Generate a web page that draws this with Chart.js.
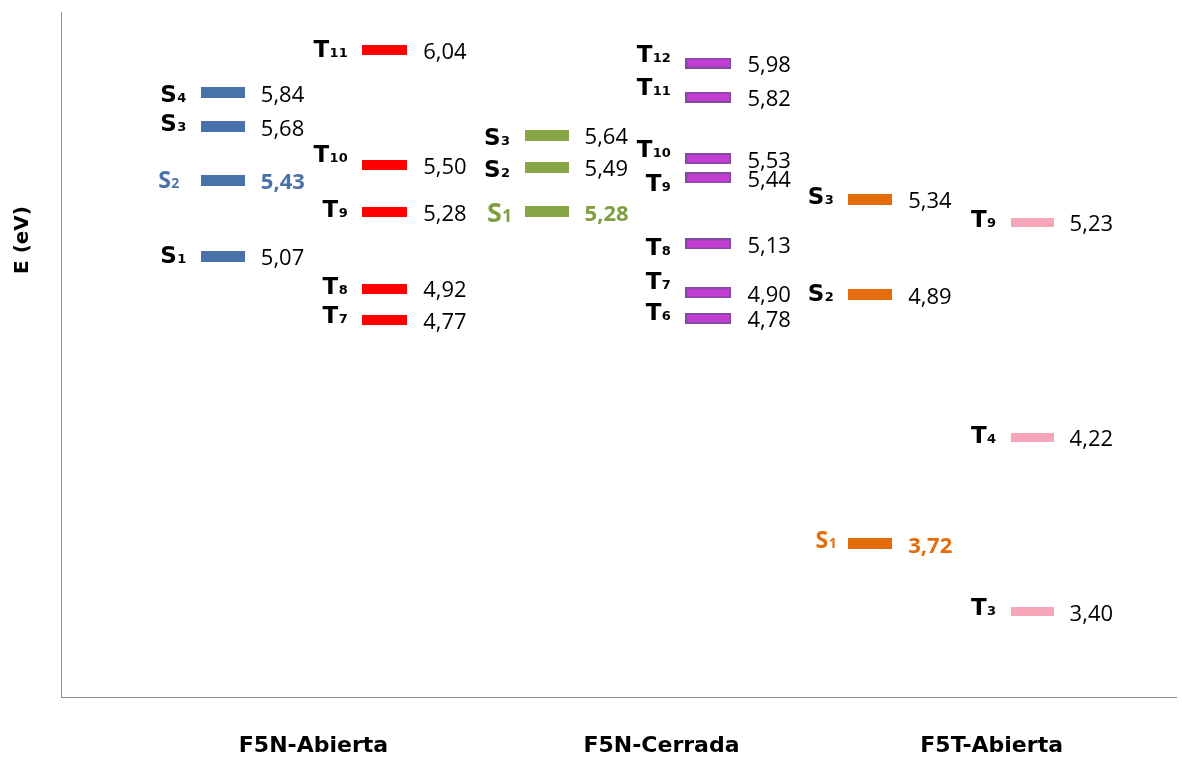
<!DOCTYPE html>
<html>
<head>
<meta charset="utf-8">
<script src="https://cdn.jsdelivr.net/npm/chart.js@4.4.1/dist/chart.umd.min.js"></script>
<style>
  html, body { margin: 0; padding: 0; background: #ffffff; }
  #wrap { width: 1182px; height: 758px; }
</style>
</head>
<body>
<div id="wrap"><canvas id="c" width="1182" height="758"></canvas></div>
<script>
// Molecules / conformations along the horizontal axis
const categories = ['F5N-Abierta', 'F5N-Cerrada', 'F5T-Abierta'];

// Excited-state energies (eV), singlets and triplets per structure
const abiertaSingletNames = ['S1', 'S2', 'S3', 'S4'];
const abiertaSingletE     = [5.07, 5.43, 5.68, 5.84];
const abiertaTripletNames = ['T7', 'T8', 'T9', 'T10', 'T11'];
const abiertaTripletE     = [4.77, 4.92, 5.28, 5.50, 6.04];

const cerradaSingletNames = ['S1', 'S2', 'S3'];
const cerradaSingletE     = [5.28, 5.49, 5.64];
const cerradaTripletNames = ['T6', 'T7', 'T8', 'T9', 'T10', 'T11', 'T12'];
const cerradaTripletE     = [4.78, 4.90, 5.13, 5.44, 5.53, 5.82, 5.98];

const f5tSingletNames = ['S1', 'S2', 'S3'];
const f5tSingletE     = [3.72, 4.89, 5.34];
const f5tTripletNames = ['T3', 'T4', 'T9'];
const f5tTripletE     = [3.40, 4.22, 5.23];

// Small vertical shifts of the state names so neighbouring labels don't collide
const abiertaSingletNudge = [-2, 0, -4, 1];
const abiertaTripletNudge = [-6, -3, -3, -12, -2];
const cerradaSingletNudge = [0, 1, 1];
const cerradaTripletNudge = [-7, -12, 3, 5, -10, -10, -9];
const f5tSingletNudge     = [-4, -2, -4];
const f5tTripletNudge     = [-5, -3, -4];

// Horizontal bar used as the marker of each level
function makeBar(w, h, fill, stroke, lw) {
  const c = document.createElement('canvas');
  c.width = w; c.height = h;
  const g = c.getContext('2d');
  g.fillStyle = fill;
  g.fillRect(0, 0, w, h);
  if (stroke) {
    g.strokeStyle = stroke;
    g.lineWidth = lw;
    g.strokeRect(lw / 2, lw / 2, w - lw, h - lw);
  }
  return c;
}

const columns = [
  { names: abiertaSingletNames, values: abiertaSingletE, nudge: abiertaSingletNudge,
    bar: makeBar(44, 11, '#4a72aa'), highlight: 'S2', hiColor: '#4a72aa', hiGap: 22 },
  { names: abiertaTripletNames, values: abiertaTripletE, nudge: abiertaTripletNudge,
    bar: makeBar(45, 10, '#ff0000') },
  { names: cerradaSingletNames, values: cerradaSingletE, nudge: cerradaSingletNudge,
    bar: makeBar(44, 11, '#86a544'), highlight: 'S1', hiColor: '#7f9e3e', hiBig: true, hiGap: 13 },
  { names: cerradaTripletNames, values: cerradaTripletE, nudge: cerradaTripletNudge,
    bar: makeBar(46, 11, '#c23dd2', '#7a4c9c', 1.6) },
  { names: f5tSingletNames, values: f5tSingletE, nudge: f5tSingletNudge,
    bar: makeBar(44, 11, '#e46c0a'), highlight: 'S1', hiColor: '#e46c0a', hiGap: 12 },
  { names: f5tTripletNames, values: f5tTripletE, nudge: f5tTripletNudge,
    bar: makeBar(43, 9, '#f7a6b9') }
];

// Where each structure name sits along the x scale
const categoryTickPos = [1.56, 3.71, 5.75];

const datasets = columns.map((col, i) => ({
  data: col.values.map(v => ({ x: i + 1, y: v })),
  pointStyle: col.bar,
  pointRadius: 5,
  showLine: false
}));

// State names (letter + subscript) on the left of each bar, energies on the right
const levelLabels = {
  id: 'levelLabels',
  afterDatasetsDraw(chart) {
    const ctx = chart.ctx;
    ctx.save();
    columns.forEach((col, di) => {
      const meta = chart.getDatasetMeta(di);
      const half = col.bar.width / 2;
      meta.data.forEach((pt, k) => {
        const name = col.names[k];
        const value = col.values[k];
        const hi = name === col.highlight;
        const letter = name.charAt(0);
        const sub = name.slice(1);

        let mainFont, subFont, color, cap, gap;
        if (hi) {
          const sz = col.hiBig ? 27 : 23;
          mainFont = 'bold ' + sz + 'px "Open Sans"';
          subFont = 'bold ' + Math.round(sz * 0.62) + 'px "Open Sans"';
          color = col.hiColor;
          cap = sz * 0.714;
          gap = col.hiGap;
        } else {
          mainFont = 'bold 23px "DejaVu Sans"';
          subFont = 'bold 13px "DejaVu Sans"';
          color = '#000000';
          cap = 23 * 0.729;
          gap = 15;
        }
        ctx.font = mainFont;
        const wMain = ctx.measureText(letter).width;
        ctx.font = subFont;
        const wSub = ctx.measureText(sub).width;
        const right = pt.x - half - gap;
        const base = pt.y + col.nudge[k] + cap / 2;
        ctx.fillStyle = color;
        ctx.textBaseline = 'alphabetic';
        ctx.textAlign = 'left';
        ctx.font = mainFont;
        ctx.fillText(letter, right - wMain - wSub, base);
        ctx.font = subFont;
        ctx.fillText(sub, right - wSub + 0.5, base);

        // energy value, written with a decimal comma
        const txt = value.toFixed(2).replace('.', ',');
        ctx.font = (hi ? 'bold ' : '') + '22px "Open Sans"';
        ctx.fillStyle = hi ? col.hiColor : '#000000';
        ctx.fillText(txt, pt.x + half + 16, pt.y + 1 + 22 * 0.714 / 2);
      });
    });
    ctx.restore();
  }
};

// Vertical axis caption
const energyTitle = {
  id: 'energyTitle',
  afterDraw(chart) {
    const ctx = chart.ctx;
    ctx.save();
    ctx.translate(23, 240);
    ctx.rotate(-Math.PI / 2);
    ctx.font = 'bold 20px "DejaVu Sans"';
    ctx.fillStyle = '#000000';
    ctx.textAlign = 'center';
    ctx.textBaseline = 'middle';
    ctx.fillText('E (eV)', 0, 0);
    ctx.restore();
  }
};

new Chart(document.getElementById('c'), {
  type: 'scatter',
  data: { datasets },
  plugins: [levelLabels, energyTitle],
  options: {
    responsive: false,
    animation: false,
    events: [],
    layout: { padding: { left: 61, right: 2, top: 12, bottom: 0 } },
    plugins: { legend: { display: false }, tooltip: { enabled: false } },
    scales: {
      x: {
        type: 'linear',
        min: 0,
        max: 6.889,
        grid: { display: false, drawTicks: false },
        border: { display: true, color: '#8c8c8c', width: 1 },
        afterBuildTicks(scale) {
          scale.ticks = categoryTickPos.map(v => ({ value: v }));
        },
        afterFit(scale) {
          scale.height = 61;
        },
        ticks: {
          autoSkip: false,
          maxRotation: 0,
          padding: 38,
          color: '#000000',
          font: { family: '"DejaVu Sans"', size: 22, weight: 'bold', lineHeight: 1 },
          callback: (value, index) => categories[index]
        }
      },
      y: {
        type: 'linear',
        min: 3,
        max: 6.22,
        grid: { display: false, drawTicks: false },
        border: { display: true, color: '#8c8c8c', width: 1 },
        afterFit(scale) {
          scale.width = 0;
        },
        ticks: { display: false }
      }
    }
  }
});
</script>
</body>
</html>
